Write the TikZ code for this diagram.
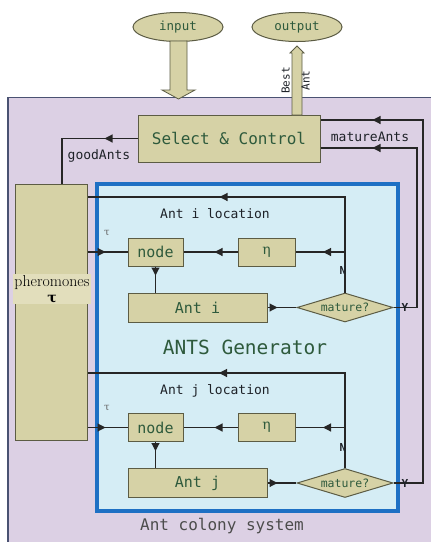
\documentclass[tikz,border=0pt]{standalone}
\usepackage{fontspec}
\setmonofont{DejaVu Sans Mono}
\newfontfamily\grserif{DejaVu Serif}
\usetikzlibrary{shapes.geometric,arrows.meta,decorations.markings,calc}
\definecolor{khaki}{HTML}{D6D2A6}
\definecolor{khakilight}{HTML}{E2DEBC}
\definecolor{khakiborder}{HTML}{5C5C44}
\definecolor{sysbg}{HTML}{DCD0E4}
\definecolor{sysline}{HTML}{4A5272}
\definecolor{genbg}{HTML}{D5EDF5}
\definecolor{genblue}{HTML}{1E70C4}
\definecolor{txtgreen}{HTML}{2E5A3C}
\definecolor{lbldark}{HTML}{1E2228}
\begin{document}
\begin{tikzpicture}[x=1pt,y=-1pt,
  box/.style={draw=khakiborder, fill=khaki, line width=1pt, inner sep=0pt,
    font=\ttfamily\fontsize{15}{15}\selectfont, text=txtgreen},
  dia/.style={shape=diamond, aspect=3.3, draw=khakiborder, fill=khaki, line width=1pt,
    inner sep=0pt, minimum width=96pt, minimum height=29pt,
    font=\ttfamily\fontsize{11.5}{11.5}\selectfont, text=txtgreen},
  oval/.style={shape=ellipse, draw=khakiborder, fill=khaki, line width=1pt, inner sep=0pt,
    minimum width=90pt, minimum height=29pt,
    font=\ttfamily\fontsize{12.5}{12.5}\selectfont, text=txtgreen},
  conn/.style={line width=1.1pt, draw=black!85},
  midarrow/.style={postaction={decorate}, decoration={markings,
    mark=at position #1 with {\arrow{Triangle[length=8pt,width=8pt]}}}},
  lbl/.style={font=\ttfamily\fontsize{13}{13}\selectfont, text=lbldark, inner sep=0pt},
  small/.style={font=\ttfamily\bfseries\fontsize{11}{11}\selectfont, text=lbldark, inner sep=0pt},
  bigarrow/.style={draw=khakiborder, fill=khaki, line width=0.8pt, line join=miter}]
\useasboundingbox (0,0) rectangle (431,542);
\clip (0,0) rectangle (431,542);
\fill[white] (0,0) rectangle (431,542);
% outer system
\draw[fill=sysbg, draw=sysline, line width=1.8pt] (8,97.5) rectangle (445,560);
% ellipses
\node[oval] (in) at (178,27) {input};
\node[oval] (out) at (297,27) {output};
% select & control
\node[box, minimum width=182pt, minimum height=47pt, font=\ttfamily\fontsize{16}{16}\selectfont] (sel) at (229,138.5) {Select \& Control};
% big input arrow
\draw[bigarrow] (170,41) -- (187,41) -- (187,90) -- (195,90) -- (178.5,99) -- (162,90) -- (170,90) -- cycle;
% output arrow
\draw[bigarrow] (292,115) -- (292,53) -- (290,53) -- (297,46) -- (304,53) -- (302,53) -- (302,115) -- cycle;
\node[font=\ttfamily\fontsize{11}{20}\selectfont, text=lbldark, rotate=90, align=center, inner sep=0pt] at (295.5,80.5) {Best\\Ant};
% pheromones
\node[box, minimum width=72pt, minimum height=256pt] (phero) at (51,312) {};
\node[fill=khakilight, inner sep=1pt, align=center, font=\fontsize{15.8}{17}\selectfont] at (52,289) {pheromones\\[-1pt]{\grserif\bfseries\fontsize{14}{14}\selectfont τ}};
% ANTS generator
\draw[fill=genbg, draw=genblue, line width=4pt] (97,184) rectangle (398,511);
\node[font=\ttfamily\fontsize{19.5}{19.5}\selectfont, text=txtgreen] at (245,347) {ANTS Generator};
\node[font=\ttfamily\fontsize{16}{16}\selectfont, text=black!70] at (222,526) {Ant colony system};
% goodAnts
\coordinate (gA) at (62,184);
\draw[conn, midarrow=33pt] (sel.west) -| (gA);
\node[lbl] at (99,156) {goodAnts};
\node[lbl] at (370,137) {matureAnts};
% ===== upper row (ant i) =====
\node[box, minimum width=55pt, minimum height=28pt] (nodei) at (155.5,252) {node};
\node[box, minimum width=57pt, minimum height=28pt, font=\grserif\fontsize{14}{14}\selectfont] (etai) at (266.5,252) {η};
\node[box, minimum width=139pt, minimum height=29pt] (anti) at (197.5,307.5) {Ant i};
\node[dia] (mati) at (345,307.5) {mature?};
\coordinate (ti) at (345,197);
\coordinate (ni) at (345,252);
\coordinate (yi) at (417,307.5);
\coordinate (mi) at (417,148);
\draw[conn, midarrow=18pt] (phero.east |- nodei) -- (nodei);
\draw[conn, midarrow=23pt] (etai) -- (nodei);
\draw[conn, midarrow=22pt] (ni) -- (etai);
\draw[conn, midarrow=9pt] (nodei.south) -- (nodei.south |- anti.north);
\draw[conn, midarrow=10pt] (anti) -- (mati);
\draw[conn, midarrow=221pt] (mati.north) -- (ti) -- (phero.east |- ti);
\draw[conn, midarrow=-52pt] (mati.east) -- (yi) -- (mi) -- (sel.east |- mi);
\node[lbl] at (215,214) {Ant i location};
\node[font=\grserif\fontsize{10}{10}\selectfont, text=black!60] at (107,233) {τ};
\node[small] at (343,270) {N};
\node[small] at (405,307.5) {Y};
% ===== lower row (ant j) =====
\node[box, minimum width=55pt, minimum height=28pt] (nodej) at (155.5,427.5) {node};
\node[box, minimum width=57pt, minimum height=28pt, font=\grserif\fontsize{14}{14}\selectfont] (etaj) at (266.5,427.5) {η};
\node[box, minimum width=139pt, minimum height=29pt] (antj) at (197.5,483) {Ant j};
\node[dia] (matj) at (345,483) {mature?};
\coordinate (tj) at (345,373);
\coordinate (nj) at (345,427.5);
\coordinate (yj) at (423,483);
\coordinate (mj) at (423,120);
\draw[conn, midarrow=18pt] (phero.east |- nodej) -- (nodej);
\draw[conn, midarrow=23pt] (etaj) -- (nodej);
\draw[conn, midarrow=22pt] (nj) -- (etaj);
\draw[conn, midarrow=9pt] (nodej.south) -- (nodej.south |- antj.north);
\draw[conn, midarrow=10pt] (antj) -- (matj);
\draw[conn, midarrow=221pt] (matj.north) -- (tj) -- (phero.east |- tj);
\draw[conn, midarrow=-52pt] (matj.east) -- (yj) -- (mj) -- (sel.east |- mj);
\node[lbl] at (215,391) {Ant j location};
\node[font=\grserif\fontsize{10}{10}\selectfont, text=black!60] at (107,408) {τ};
\node[small] at (343,447) {N};
\node[small] at (405,483) {Y};
\end{tikzpicture}
\end{document}
